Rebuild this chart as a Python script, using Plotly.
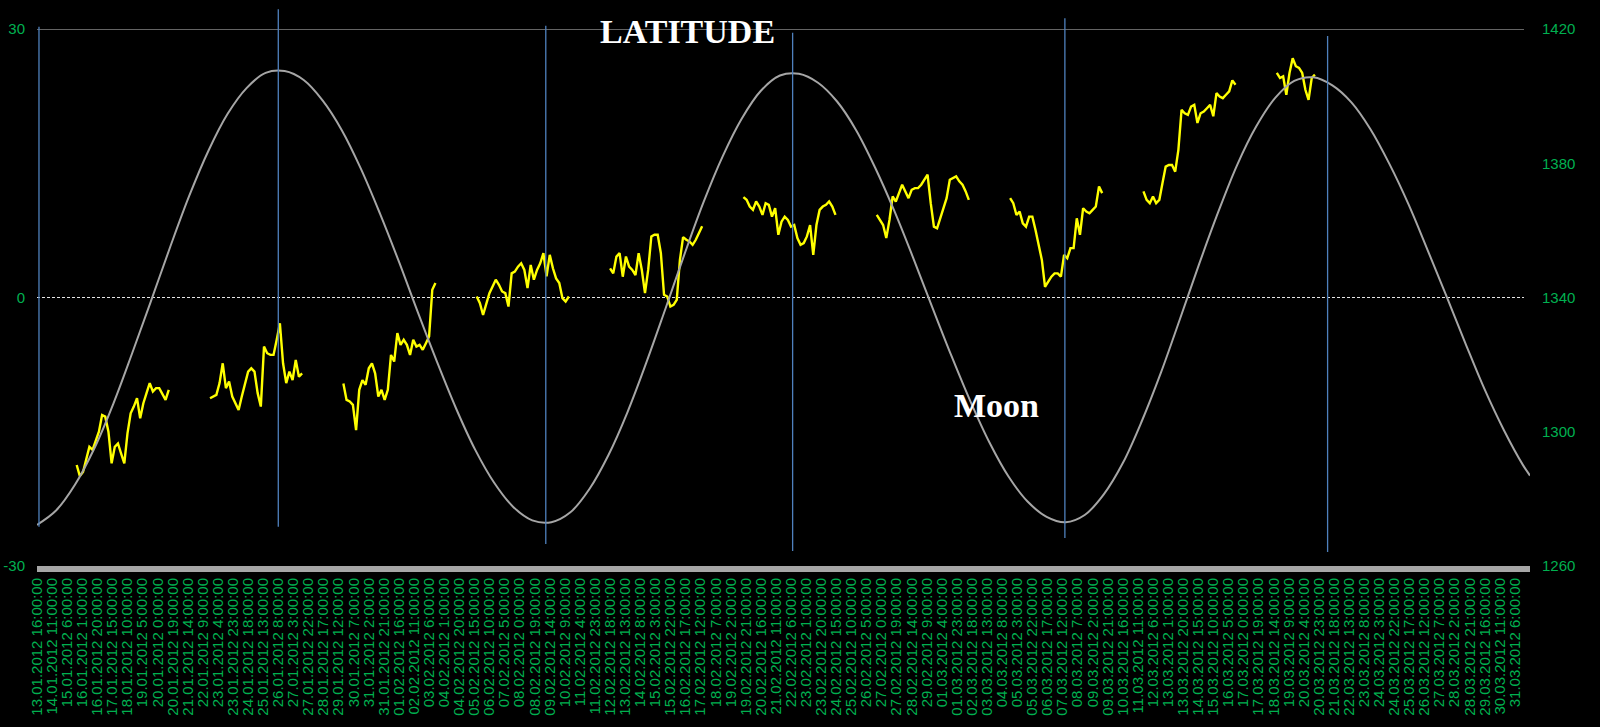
import pandas as pd
import plotly.graph_objects as go

# ---------------- data ----------------
START = "2012-01-13 16:00"          # first category on the time axis
AXIS_END_HOURS = 1881               # axis length in hours
TICK_STEP_HOURS = 19
N_TICKS = 99

# Moon latitude (left axis), one reading per day from START, plus the last point
MOON_STEP_HOURS = 24
MOON_LAT = [-25.4, -23.8, -20.9, -16.9, -11.9, -6.2, -0.3, 5.7, 11.4, 16.4, 20.5, 23.4, 25.1,
            25.3, 24.3, 22.0, 18.7, 14.4, 9.4, 4.0, -1.7, -7.2, -12.4, -17.0, -20.7, -23.4, -24.9,
            -25.1, -24.0, -21.4, -17.6, -12.8, -7.2, -1.2, 4.9, 10.7, 15.8, 20.0, 23.1, 24.8,
            25.0, 24.0, 21.9, 18.7, 14.5, 9.7, 4.4, -1.1, -6.5, -11.6, -16.2, -20.0, -22.8, -24.5,
            -25.1, -24.3, -22.0, -18.5, -13.8, -8.4, -2.4, 3.7, 9.5, 14.8, 19.1, 22.3, 24.2,
            24.6, 23.7, 21.8, 18.8, 14.9, 10.4, 5.3, 0.1, -5.2, -10.3, -14.8, -18.7]
MOON_LAST_HOUR = 1881
MOON_LAST_LAT = -19.9

# Price (right axis): weekly trading sessions, one reading every 4 hours
PRICE_STEP_HOURS = 4
WEEK_STARTS = ["2012-01-15 18:00", "2012-01-22 18:00", "2012-01-29 18:00", "2012-02-05 18:00",
               "2012-02-12 18:00", "2012-02-19 18:00", "2012-02-26 18:00", "2012-03-04 18:00",
               "2012-03-11 18:00", "2012-03-18 18:00"]
WEEK1 = [1290.1, 1286.8, 1288.0, 1291.8, 1295.5, 1294.6, 1297.5, 1300.0, 1305.0, 1304.5, 1300.0, 1290.6,
         1295.5, 1296.5, 1293.5, 1290.6, 1299.5, 1305.5, 1307.5, 1310.0, 1304.0, 1308.5, 1311.5, 1314.5,
         1312.0, 1313.0, 1313.0, 1311.0, 1309.5, 1312.5]
WEEK2 = [1310.0, 1310.5, 1311.0, 1314.5, 1320.4, 1313.0, 1315.0, 1310.5, 1308.5, 1306.5, 1310.5, 1314.0,
         1317.9, 1318.9, 1317.9, 1311.5, 1307.5, 1325.4, 1323.4, 1322.9, 1322.9, 1327.4, 1332.3, 1320.4,
         1314.5, 1317.9, 1315.4, 1321.4, 1316.4, 1317.4]
WEEK3 = [1314.4, 1309.5, 1309.0, 1308.0, 1300.5, 1312.5, 1315.4, 1314.0, 1318.9, 1320.4, 1317.4, 1310.5,
         1312.5, 1309.5, 1312.5, 1322.9, 1320.9, 1329.4, 1325.9, 1327.4, 1325.9, 1322.9, 1327.4, 1325.4,
         1325.9, 1324.4, 1326.4, 1328.4, 1342.3, 1344.3]
WEEK4 = [1340.3, 1338.3, 1334.8, 1337.8, 1341.3, 1343.3, 1345.3, 1343.8, 1341.8, 1341.3, 1337.3, 1347.2,
         1347.7, 1349.2, 1350.2, 1348.2, 1342.8, 1349.7, 1345.3, 1348.2, 1350.2, 1353.2, 1346.3, 1352.7,
         1348.7, 1345.7, 1344.3, 1339.8, 1338.8, 1340.3]
WEEK5 = [1348.7, 1347.2, 1352.2, 1353.2, 1346.2, 1352.2, 1349.2, 1348.2, 1346.7, 1353.2, 1348.2, 1341.3,
         1348.2, 1358.2, 1358.7, 1358.7, 1353.2, 1340.8, 1340.3, 1337.3, 1337.8, 1339.3, 1351.2, 1358.0,
         1357.2, 1356.7, 1355.7, 1357.2, 1359.2, 1361.2]
WEEK6 = [1369.9, 1369.1, 1367.1, 1366.1, 1368.6, 1367.1, 1364.6, 1368.1, 1367.6, 1364.1, 1366.6, 1358.7,
         1362.6, 1364.1, 1363.1, 1361.1, 1361.6, 1357.7, 1355.7, 1356.2, 1358.2, 1361.6, 1352.7, 1361.6,
         1366.1, 1367.1, 1367.6, 1368.6, 1367.1, 1364.6]
WEEK7 = [1364.6, 1363.1, 1361.6, 1357.7, 1363.1, 1370.1, 1368.6, 1371.1, 1373.6, 1371.6, 1369.6, 1372.1,
         1372.6, 1372.6, 1373.6, 1375.1, 1376.6, 1368.1, 1361.1, 1360.6, 1363.6, 1367.1, 1369.6, 1375.1,
         1375.6, 1376.1, 1374.6, 1373.6, 1371.6, 1369.1]
WEEK8 = [1369.6, 1368.1, 1364.6, 1365.6, 1362.1, 1361.1, 1364.1, 1364.1, 1360.1, 1355.2, 1351.2, 1343.2,
         1344.7, 1346.2, 1347.2, 1347.2, 1346.2, 1352.7, 1351.7, 1354.7, 1354.7, 1363.6, 1358.7, 1366.6,
         1365.6, 1365.1, 1366.1, 1367.1, 1373.1, 1371.1]
WEEK9 = [1371.6, 1369.1, 1368.1, 1370.1, 1368.1, 1369.1, 1374.1, 1379.0, 1379.5, 1379.5, 1377.5, 1384.0,
         1395.9, 1394.9, 1394.4, 1396.9, 1397.4, 1392.0, 1394.9, 1395.4, 1396.4, 1397.4, 1394.0, 1400.9,
         1399.9, 1399.4, 1400.4, 1401.4, 1404.7, 1403.4]
WEEK10 = [1406.9, 1405.4, 1405.9, 1400.4, 1406.9, 1411.3, 1408.9, 1408.4, 1406.9, 1401.9, 1398.9, 1405.4,
          1406.4]
PRICE_WEEKS = [WEEK1, WEEK2, WEEK3, WEEK4, WEEK5, WEEK6, WEEK7, WEEK8, WEEK9, WEEK10]

# Moon extremes marked by vertical lines
EXTREME_TIMES = ["2012-01-13 18:30", "2012-01-26 08:00", "2012-02-09 09:00",
                 "2012-02-22 08:00", "2012-03-07 15:00", "2012-03-21 10:00"]

LEFT_TICKS = [-30, 0, 30]
LEFT_TICK_TEXT = ["-30", "0", "30"]
RIGHT_TICKS = [1260, 1300, 1340, 1380, 1420]
RIGHT_TICK_TEXT = ["1260", "1300", "1340", "1380", "1420"]

# ---------------- build ----------------
t0 = pd.Timestamp(START)
hour = pd.Timedelta(hours=1)
tick_times = [t0 + TICK_STEP_HOURS * i * hour for i in range(N_TICKS)]
tick_text = [f"{t:%d.%m.%Y} {t.hour}:00:00" for t in tick_times]

moon_x = [t0 + MOON_STEP_HOURS * i * hour for i in range(len(MOON_LAT))] + [t0 + MOON_LAST_HOUR * hour]
moon_y = MOON_LAT + [MOON_LAST_LAT]

px_, py_ = [], []
for ws, vals in zip(WEEK_STARTS, PRICE_WEEKS):
    s = pd.Timestamp(ws)
    px_ += [s + PRICE_STEP_HOURS * k * hour for k in range(len(vals))] + [None]
    py_ += list(vals) + [None]

GREEN = "#00b050"
YFONT = dict(family="Arial, Liberation Sans, sans-serif", size=15, color=GREEN)
XFONT = dict(family="Arial, Liberation Sans, sans-serif", size=15, color=GREEN)
SERIF = "Liberation Serif, Times New Roman, serif"

fig = go.Figure()
fig.add_trace(go.Scatter(x=px_, y=py_, mode="lines", yaxis="y", connectgaps=False,
                         line=dict(color="#ffff00", width=2.4), hoverinfo="skip", showlegend=False))
fig.add_trace(go.Scatter(x=moon_x, y=moon_y, mode="lines", yaxis="y2",
                         line=dict(color="#a6a6a6", width=2, shape="spline", smoothing=1),
                         hoverinfo="skip", showlegend=False))

shapes = [
    dict(type="line", xref="paper", yref="y2", x0=0, x1=0.996, y0=30, y1=30,
         line=dict(color="#c8c8c8", width=1.2), layer="below"),
    dict(type="line", xref="paper", yref="y2", x0=0, x1=0.996, y0=0, y1=0,
         line=dict(color="#e6e6e6", width=1, dash="3px,2px"), layer="below"),
]
line_tops = [1.004, 1.037, 1.006, 0.993, 1.020, 0.987]
line_bottoms = [0.073, 0.073, 0.041, 0.028, 0.052, 0.026]
for t, ytop, ybot in zip(EXTREME_TIMES, line_tops, line_bottoms):
    shapes.append(dict(type="line", xref="x", yref="paper", x0=t, x1=t, y0=ybot, y1=ytop,
                       line=dict(color="#4f81bd", width=1.3), layer="above"))

fig.update_layout(
    width=1600, height=727,
    margin=dict(l=37, r=70, t=29, b=161, autoexpand=False),
    paper_bgcolor="black", plot_bgcolor="black",
    shapes=shapes,
    xaxis=dict(type="date", range=[t0, t0 + AXIS_END_HOURS * hour],
               tickvals=tick_times, ticktext=tick_text, tickangle=-90,
               tickfont=XFONT, showgrid=False, zeroline=False, automargin=False,
               showline=True, linecolor="#a6a6a6", linewidth=6, ticks=""),
    yaxis=dict(range=[1260, 1420], tickvals=RIGHT_TICKS, ticktext=RIGHT_TICK_TEXT, side="right",
               tickfont=YFONT, showgrid=False, zeroline=False, ticks="", automargin=False,
               ticklabelstandoff=11),
    yaxis2=dict(range=[-30, 30], tickvals=LEFT_TICKS, ticktext=LEFT_TICK_TEXT, side="left",
                overlaying="y", tickfont=YFONT, showgrid=False, zeroline=False, ticks="",
                automargin=False, ticklabelstandoff=11),
    annotations=[
        dict(text="<b>LATITUDE</b>", xref="paper", yref="paper", x=0.4357, y=0.995,
             xanchor="center", yanchor="middle", showarrow=False,
             font=dict(family=SERIF, size=34, color="white")),
        dict(text="<b>Moon</b>", xref="paper", yref="paper", x=0.643, y=0.298,
             xanchor="center", yanchor="middle", showarrow=False,
             font=dict(family=SERIF, size=34, color="white")),
    ],
)

fig.write_html("out.html", config={"displayModeBar": False},
               post_script="document.body.style.margin='0';document.body.style.background='black';")
